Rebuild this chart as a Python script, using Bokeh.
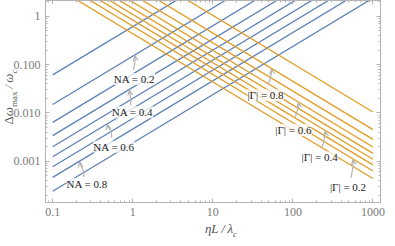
import math
from bokeh.plotting import figure
from bokeh.models import Range1d, LogAxis, FixedTicker, Label, Arrow, OpenHead, ColumnDataSource, Div
from bokeh.layouts import row, column
from bokeh.embed import file_html
from bokeh.resources import INLINE

# ---------------- data ----------------
x_ends = [0.1, 1000.0]                       # eta L / lambda_c at line ends
na_values = [0.1, 0.2, 0.3, 0.4, 0.5, 0.6, 0.7, 0.8, 0.9]
na_at_start = [0.0614, 0.0150, 0.0064, 0.0034, 0.0020, 0.00124, 0.00077, 0.000464, 0.000239]
na_at_end = [614.0, 150.0, 64.0, 34.0, 20.0, 12.4, 7.7, 4.64, 2.39]
gamma_values = [0.1, 0.2, 0.3, 0.4, 0.5, 0.6, 0.7, 0.8, 0.9]
gamma_at_start = [4.4, 6.3, 8.4, 11.0, 14.6, 19.8, 28.4, 45.3, 105.0]
gamma_at_end = [0.00044, 0.00063, 0.00084, 0.0011, 0.00146, 0.00198, 0.00284, 0.00453, 0.0105]

x_ticks = [0.1, 1, 10, 100, 1000]
x_tick_labels = ["0.1", "1", "10", "100", "1000"]
y_ticks = [0.001, 0.01, 0.1, 1]
y_tick_labels = ["0.001", "0.010", "0.100", "1"]

na_callouts = [0.2, 0.4, 0.6, 0.8]
na_callout_x = [1.064, 0.91, 0.485, 0.218]
gamma_callouts = [0.8, 0.6, 0.4, 0.2]
gamma_callout_x = [54.0, 117.0, 253.0, 563.0]

# ---------------- layout ----------------
YDIV_W = 10
W, H = 377, 222
BL, BR, BT, BB = 33, 7, 0, 20
X0, X1 = 0.0814, 1242.0
Y0, Y1 = 1.40e-4, 2.134
FW, FH = W - BL - BR, H - BT - BB
XPPD = FW / math.log10(X1 / X0)
YPPD = FH / math.log10(Y1 / Y0)

BLUE = "#5E81B5"
ORANGE = "#E19C24"
GRAY = "#b4b4b4"
TICKTXT = "#7a7a7a"
TITLE = "#555555"
SERIF = "Liberation Serif"


def off(x, y, dx, dy):
    """shift a data point by dx (right) / dy (down) screen pixels"""
    return x * 10 ** (dx / XPPD), y * 10 ** (-dy / YPPD)


def line_at(x, a, b):
    t = (math.log10(x) - math.log10(x_ends[0])) / (math.log10(x_ends[1]) - math.log10(x_ends[0]))
    return 10 ** (math.log10(a) + t * (math.log10(b) - math.log10(a)))


p = figure(width=W, height=H, x_axis_type="log", y_axis_type="log",
           x_range=Range1d(X0, X1), y_range=Range1d(Y0, Y1),
           output_backend="svg", toolbar_location=None,
           min_border_left=BL, min_border_right=BR, min_border_top=BT, min_border_bottom=BB)
p.grid.visible = False
p.outline_line_color = GRAY
p.background_fill_color = "white"
p.border_fill_color = "white"
p.border_fill_alpha = 0.0

minor = [k * 10.0 ** n for n in range(-4, 4) for k in range(2, 10)]


def style_axis(ax, ticks, labels, show):
    ax.ticker = FixedTicker(ticks=ticks, minor_ticks=minor)
    ax.axis_line_color = GRAY
    ax.major_tick_line_color = GRAY
    ax.minor_tick_line_color = GRAY
    ax.major_tick_in = 4
    ax.major_tick_out = 0
    ax.minor_tick_in = 2
    ax.minor_tick_out = 0
    if show:
        ax.major_label_overrides = {t: l for t, l in zip(ticks, labels)}
        ax.major_label_text_font = SERIF
        ax.major_label_text_font_size = "12px"
        ax.major_label_text_color = TICKTXT
        ax.major_label_standoff = 5
    else:
        ax.major_label_overrides = {t: "" for t in ticks}
        ax.major_label_text_font_size = "0px"
        ax.major_label_standoff = 0


style_axis(p.xaxis[0], x_ticks, x_tick_labels, True)
style_axis(p.yaxis[0], y_ticks, y_tick_labels, True)
top_ax = LogAxis()
right_ax = LogAxis()
style_axis(top_ax, x_ticks, x_tick_labels, False)
style_axis(right_ax, y_ticks, y_tick_labels, False)
p.add_layout(top_ax, "above")
p.add_layout(right_ax, "right")

# ---------------- lines ----------------
blue_src = ColumnDataSource(dict(xs=[x_ends] * len(na_values),
                                 ys=[[a, b] for a, b in zip(na_at_start, na_at_end)]))
orange_src = ColumnDataSource(dict(xs=[x_ends] * len(gamma_values),
                                   ys=[[a, b] for a, b in zip(gamma_at_start, gamma_at_end)]))
p.multi_line("xs", "ys", source=blue_src, line_color=BLUE, line_width=1.3)
p.multi_line("xs", "ys", source=orange_src, line_color=ORANGE, line_width=1.3)

# ---------------- callouts ----------------
na_geom = [(-0.5, 23, -1.5, 14), (3, 22, 1, 15), (6.5, 22, 4, 13), (7.5, 22, 4, 15)]
gamma_geom = [(-6, 26, -3, 15), (-5, 27, -3, 14), (-5.5, 26, -3, 16), (-5, 27, -2, 18)]

callouts = []
for v, xt, g in zip(na_callouts, na_callout_x, na_geom):
    i = na_values.index(v)
    callouts.append((f"NA = {v}", xt, line_at(xt, na_at_start[i], na_at_end[i]) * 10 ** (-1.0 / YPPD), g))
for v, xt, g in zip(gamma_callouts, gamma_callout_x, gamma_geom):
    i = gamma_values.index(v)
    callouts.append((f"|Γ| = {v}", xt, line_at(xt, gamma_at_start[i], gamma_at_end[i]) * 10 ** (-1.0 / YPPD), g))

for text, xt, yt, (tdx, tdy, adx, ady) in callouts:
    x0, y0 = off(xt, yt, adx, ady)
    c0x, c0y = off(xt, yt, adx + 1.5, ady * 0.55)
    c1x, c1y = off(xt, yt, 0.8, 5)
    p.bezier(x0=[x0], y0=[y0], x1=[xt], y1=[yt], cx0=[c0x], cy0=[c0y], cx1=[c1x], cy1=[c1y],
             line_color=GRAY, line_width=1.2)
    hx, hy = off(xt, yt, 0.4, 2.5)
    p.add_layout(Arrow(end=OpenHead(size=5, line_color=GRAY, line_width=1.2),
                       x_start=hx, y_start=hy, x_end=xt, y_end=yt,
                       line_color=GRAY, line_width=1.2))
    lx, ly = off(xt, yt, tdx, tdy)
    p.add_layout(Label(x=lx, y=ly, text=text, text_font=SERIF, text_font_size="11px",
                       text_color="#1a1a1a", text_align="center", text_baseline="middle",
                       background_fill_color="white", background_fill_alpha=0.75))

# ---------------- axis titles (real HTML text with subscripts) ----------------
ytitle_html = (
    f'<div style="position:relative;width:{YDIV_W}px;height:{H}px;">'
    '<div style="position:absolute;left:-21px;top:90px;width:60px;height:14px;'
    'transform:rotate(-90deg);transform-origin:50% 50%;text-align:center;white-space:nowrap;'
    f"font-family:'{SERIF}';font-size:13px;line-height:14px;color:{TITLE};\">"
    'Δ<i>ω</i><sub style="font-size:9px;">max</sub><i>\u2009/\u2009ω<sub style="font-size:9px;">c</sub></i>'
    '</div></div>'
)
xtitle_html = (
    f'<div style="position:relative;width:{YDIV_W + W}px;height:16px;">'
    '<div style="position:absolute;left:181px;top:0px;width:80px;height:16px;text-align:center;'
    f"white-space:nowrap;font-family:'{SERIF}';font-size:13px;line-height:14px;color:{TITLE};\">"
    '<i>ηL\u2009/\u2009λ<sub style="font-size:9px;">c</sub></i>'
    '</div></div>'
)
ydiv = Div(text=ytitle_html, width=YDIV_W, height=H, margin=0,
           styles={"overflow": "visible", "z-index": "5"})
xdiv = Div(text=xtitle_html, width=YDIV_W + W, height=16, margin=0, styles={"overflow": "visible"})

layout = column(row(ydiv, p, spacing=0), xdiv, spacing=0)

open("out.html", "w").write(file_html(layout, INLINE))
